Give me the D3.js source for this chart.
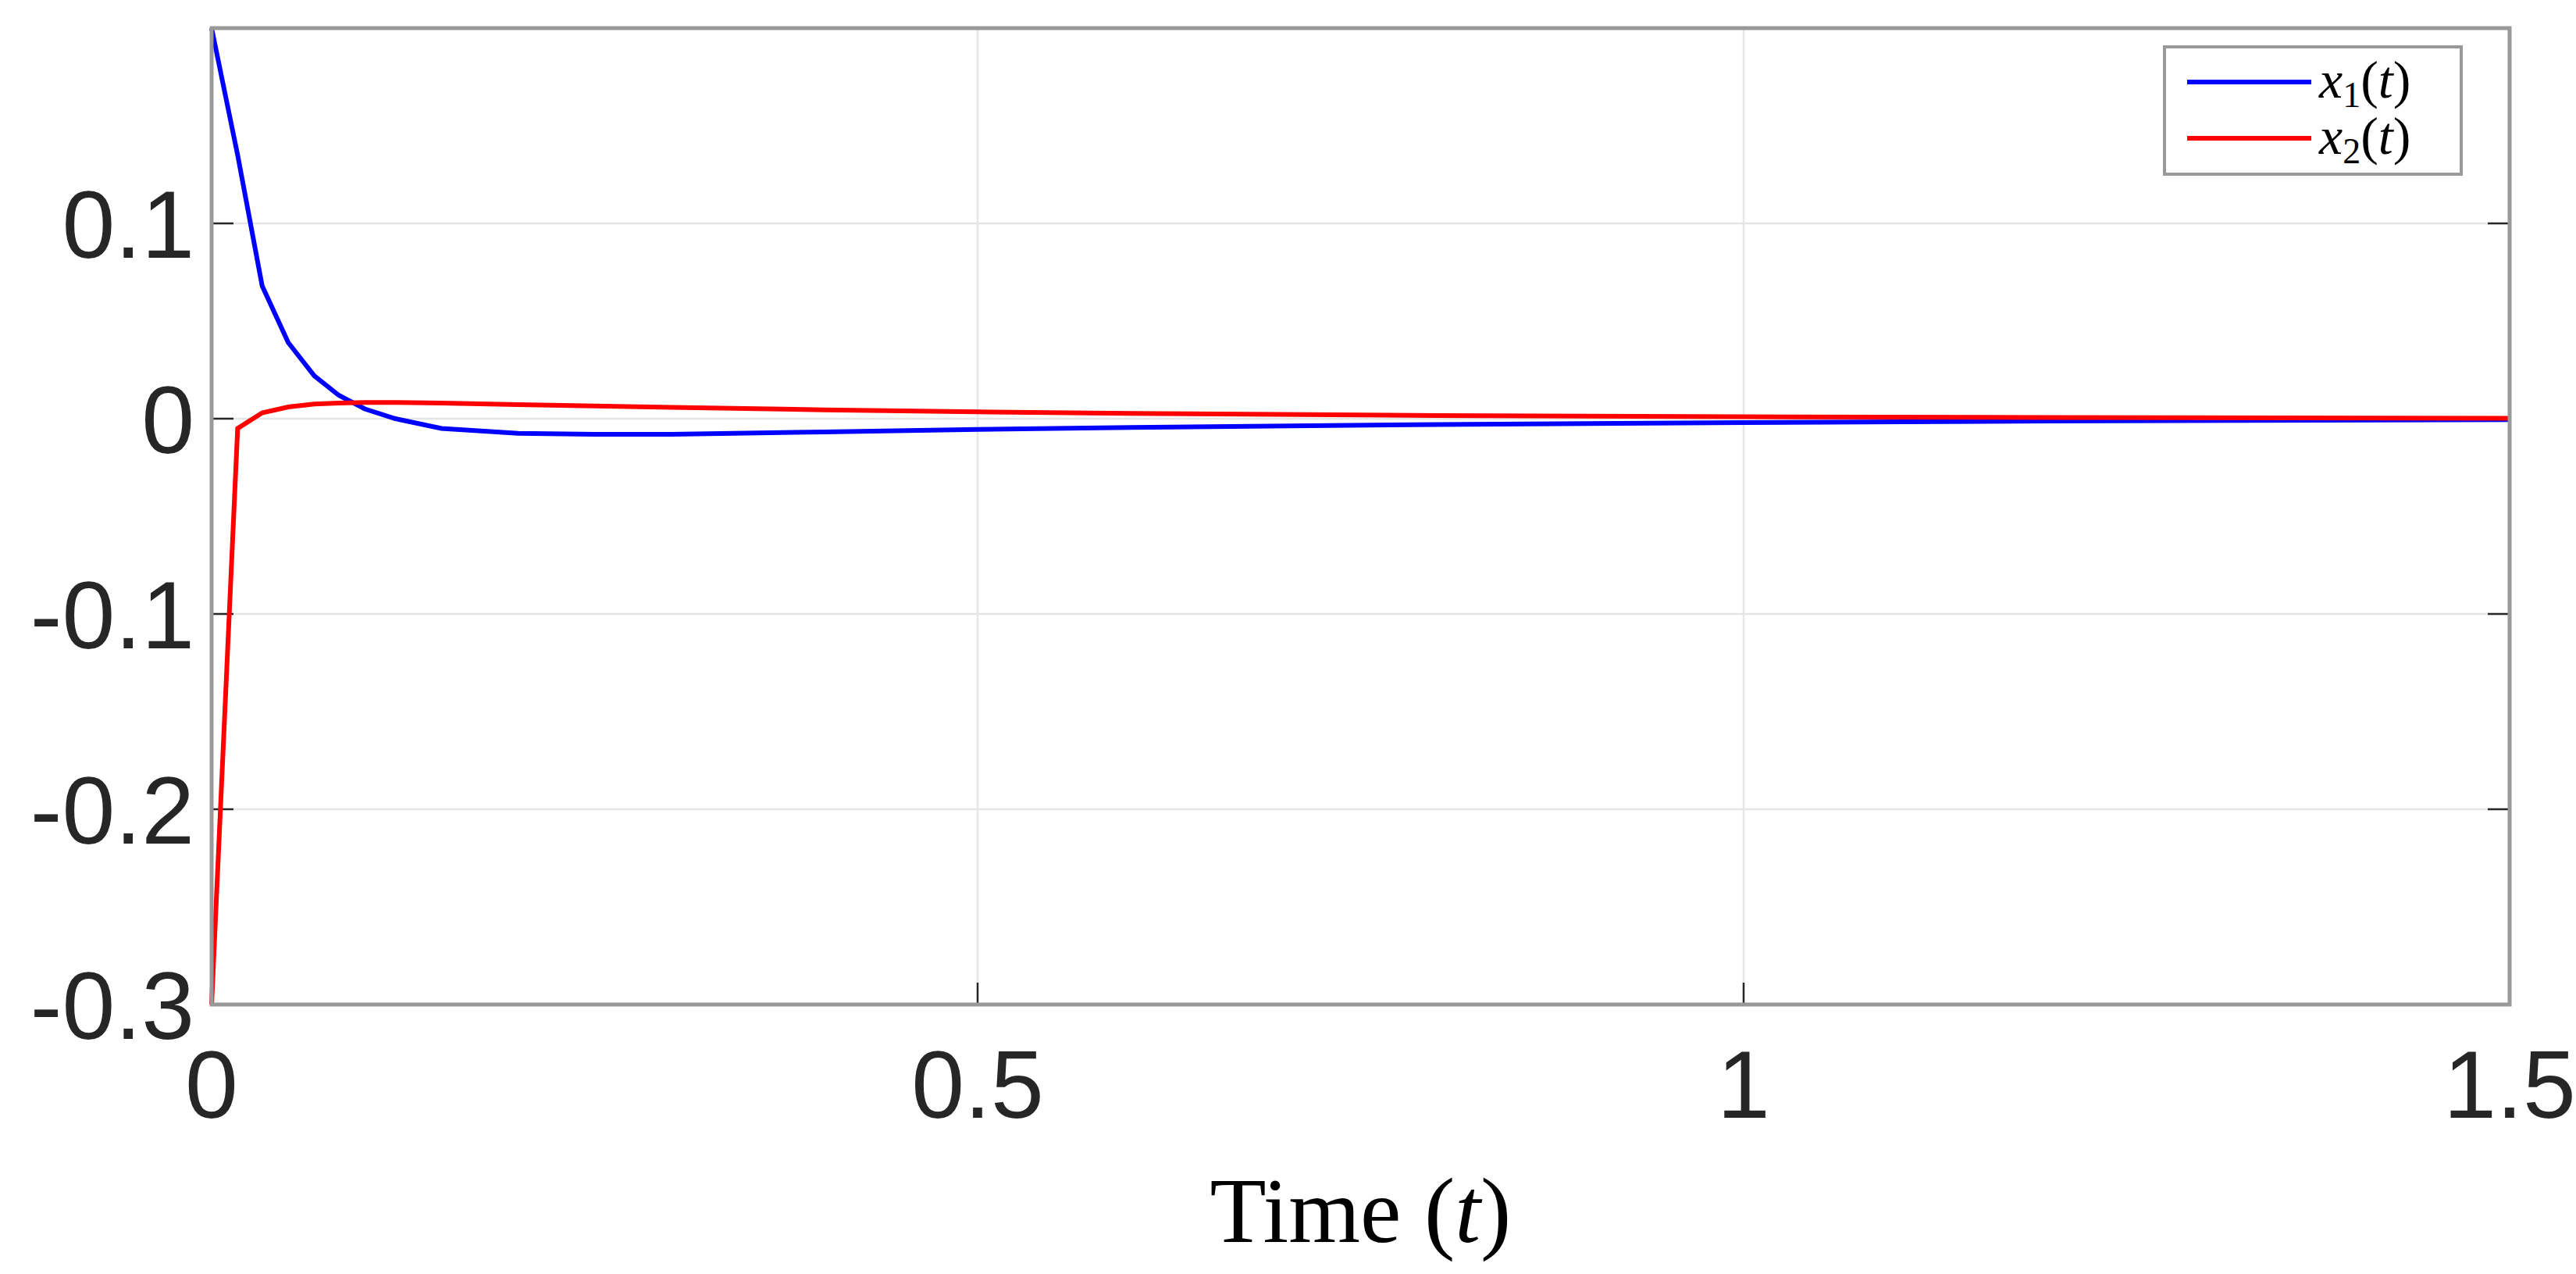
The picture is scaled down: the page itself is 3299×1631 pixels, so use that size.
<!DOCTYPE html>
<html><head><meta charset="utf-8">
<script src="https://cdn.jsdelivr.net/npm/d3@7"></script>
<style>body{margin:0;background:#fff}</style>
</head><body>
<svg id="chart" width="3299" height="1631"></svg>
<script>
var time = [0, 0.017, 0.033, 0.05, 0.067, 0.083, 0.1, 0.12, 0.15, 0.2, 0.25, 0.3, 0.4, 0.5, 0.6, 0.8, 1.0, 1.2, 1.5];
var x1 = [0.2, 0.135, 0.068, 0.039, 0.022, 0.012, 0.005, 0.0, -0.005, -0.0075, -0.008, -0.008, -0.0068, -0.0055, -0.0045, -0.003, -0.002, -0.0012, -0.0005];
var x2 = [-0.3, -0.005, 0.003, 0.006, 0.0075, 0.008, 0.0083, 0.0083, 0.008, 0.0072, 0.0065, 0.0058, 0.0045, 0.0035, 0.0027, 0.0016, 0.001, 0.0006, 0.0002];
var xTicks = [0, 0.5, 1, 1.5];
var yTicks = [-0.3, -0.2, -0.1, 0, 0.1];
var seriesNames = ["x1", "x2"];
var seriesColors = ["#0000ff", "#ff0000"];

var m = {l: 271, r: 3214, t: 36, b: 1286};
var svg = d3.select('#chart');
var x = d3.scaleLinear().domain([0, 1.5]).range([m.l, m.r]);
var y = d3.scaleLinear().domain([-0.3, 0.2]).range([m.b, m.t]);

// grid
svg.append('g').selectAll('line').data(xTicks).enter().append('line')
  .attr('x1', d => x(d)).attr('x2', d => x(d)).attr('y1', m.t).attr('y2', m.b)
  .attr('stroke', '#e6e6e6').attr('stroke-width', 2.5);
svg.append('g').selectAll('line').data(yTicks).enter().append('line')
  .attr('y1', d => y(d)).attr('y2', d => y(d)).attr('x1', m.l).attr('x2', m.r)
  .attr('stroke', '#e6e6e6').attr('stroke-width', 2.5);

// ticks (inward)
svg.append('g').selectAll('line').data(xTicks).enter().append('line')
  .attr('x1', d => x(d)).attr('x2', d => x(d)).attr('y1', m.b).attr('y2', m.b - 28)
  .attr('stroke', '#262626').attr('stroke-width', 2.5);
svg.append('g').selectAll('line').data(yTicks).enter().append('line')
  .attr('y1', d => y(d)).attr('y2', d => y(d)).attr('x1', m.l).attr('x2', m.l + 28)
  .attr('stroke', '#262626').attr('stroke-width', 2.5);
svg.append('g').selectAll('line').data(yTicks).enter().append('line')
  .attr('y1', d => y(d)).attr('y2', d => y(d)).attr('x1', m.r).attr('x2', m.r - 28)
  .attr('stroke', '#262626').attr('stroke-width', 2.5);

// lines
var line = d3.line().x((d, i) => x(time[i])).y(d => y(d));
[x1, x2].forEach(function(s, i){
  svg.append('path').datum(s).attr('d', line).attr('fill', 'none')
    .attr('stroke', seriesColors[i]).attr('stroke-width', 6);
});

// box
svg.append('rect').attr('x', m.l).attr('y', m.t).attr('width', m.r - m.l).attr('height', m.b - m.t)
  .attr('fill', 'none').attr('stroke', '#999').attr('stroke-width', 5);

// tick labels
svg.append('g').selectAll('text').data(xTicks).enter().append('text')
  .attr('x', d => x(d)).attr('y', m.b + 145).attr('text-anchor', 'middle')
  .attr('font-family', 'Liberation Sans, Arial, sans-serif').attr('font-size', 122).attr('fill', '#262626')
  .text(d => d);
svg.append('g').selectAll('text').data(yTicks).enter().append('text')
  .attr('x', m.l - 22).attr('y', d => y(d) + 44).attr('text-anchor', 'end')
  .attr('font-family', 'Liberation Sans, Arial, sans-serif').attr('font-size', 122).attr('fill', '#262626')
  .text(d => d);

// x label
var xl = svg.append('text').attr('x', x(0.75)).attr('y', 1590).attr('text-anchor', 'middle')
  .attr('font-family', 'Liberation Serif, Times New Roman, serif').attr('font-size', 118).attr('fill', '#000');
xl.append('tspan').text('Time (');
xl.append('tspan').attr('font-style', 'italic').text('t');
xl.append('tspan').text(')');

// legend
var lg = svg.append('g');
lg.append('rect').attr('x', 2772).attr('y', 60).attr('width', 380).attr('height', 163)
  .attr('fill', '#fff').attr('stroke', '#999').attr('stroke-width', 4);
seriesNames.forEach(function(n, i){
  var yy = 105 + i * 72;
  lg.append('line').attr('x1', 2801).attr('x2', 2960).attr('y1', yy).attr('y2', yy)
    .attr('stroke', seriesColors[i]).attr('stroke-width', 6);
  var t = lg.append('text').attr('x', 2970).attr('y', yy + 20)
    .attr('font-family', 'Liberation Serif, Times New Roman, serif').attr('font-size', 68);
  t.append('tspan').attr('font-style', 'italic').text('x');
  t.append('tspan').attr('font-size', 46).attr('dy', 12).text(n.slice(1));
  t.append('tspan').attr('dy', -12).text('(');
  t.append('tspan').attr('font-style', 'italic').text('t');
  t.append('tspan').text(')');
});
</script>
</body></html>
